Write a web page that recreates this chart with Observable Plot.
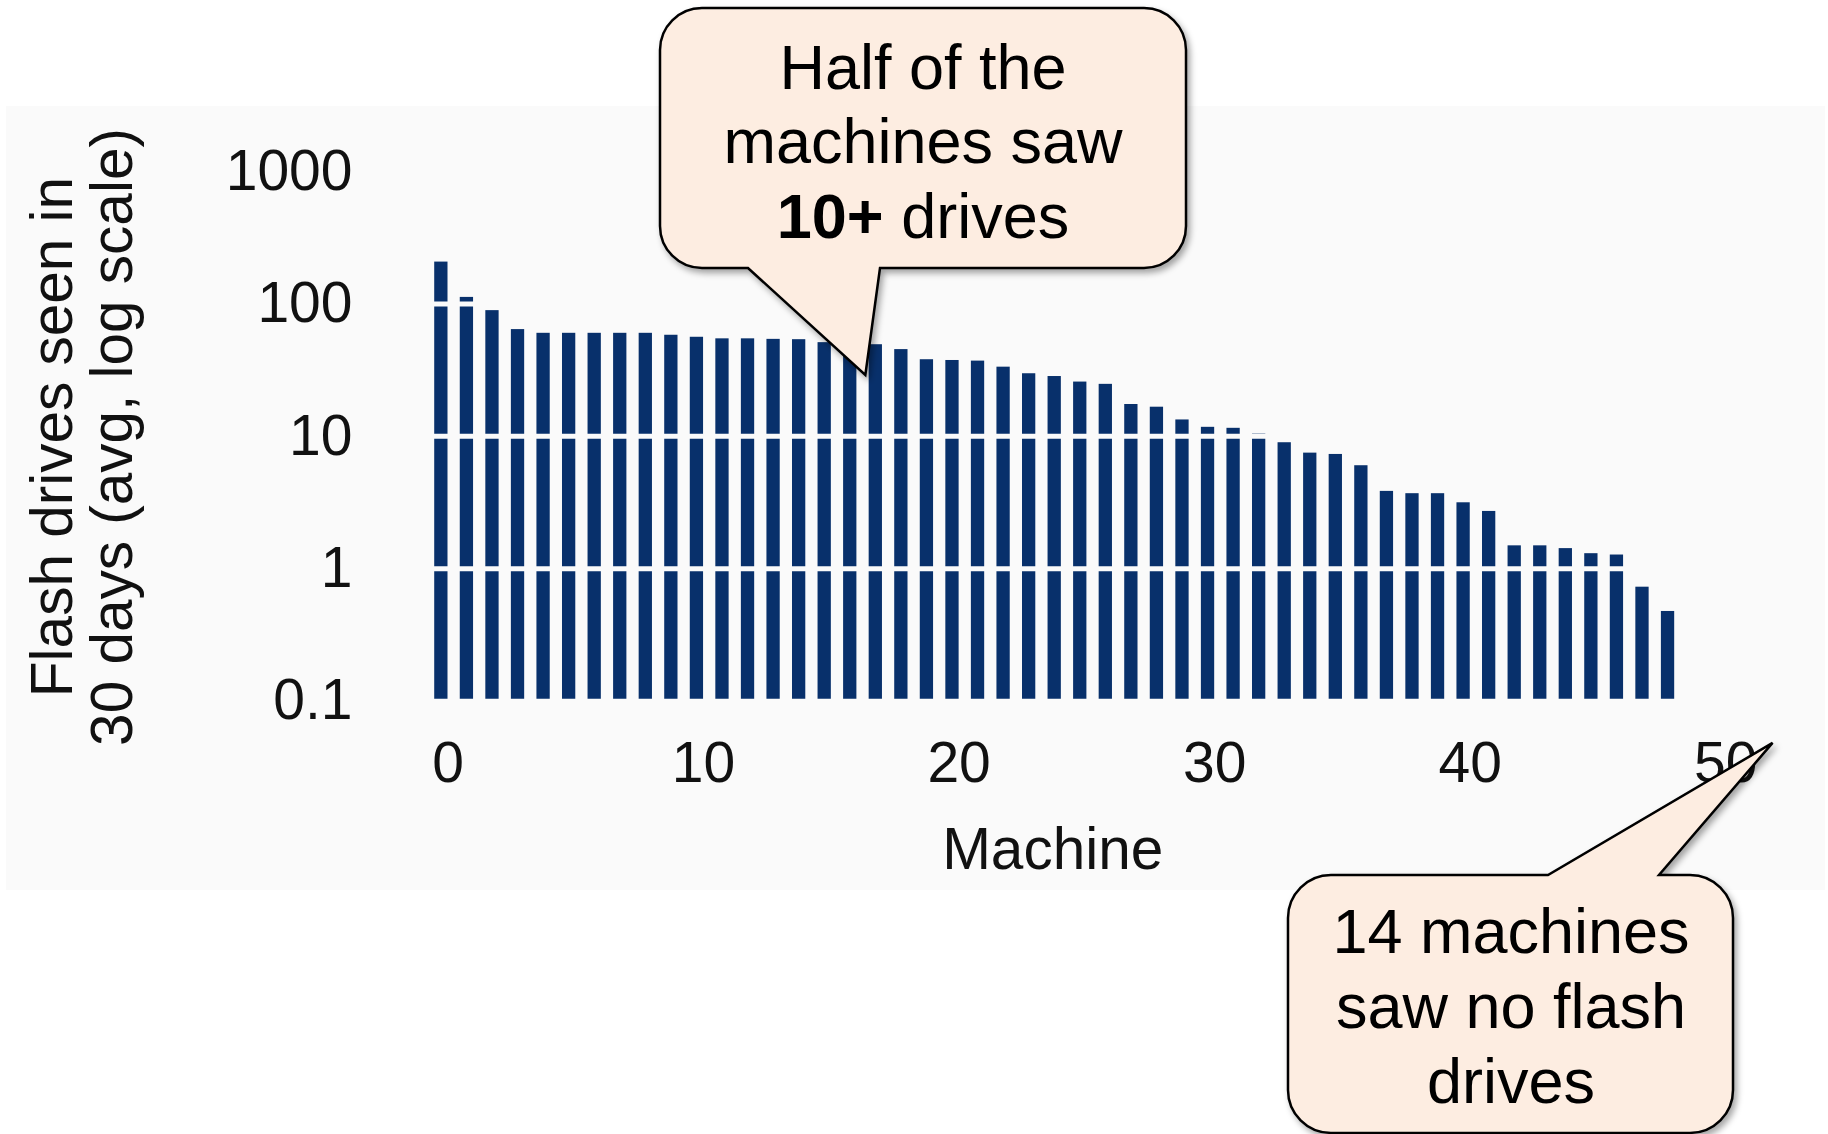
<!DOCTYPE html>
<html>
<head>
<meta charset="utf-8">
<script src="https://cdn.jsdelivr.net/npm/d3@7"></script>
<script src="https://cdn.jsdelivr.net/npm/@observablehq/plot@0.6"></script>
<style>
  html, body { margin: 0; padding: 0; background: #ffffff; }
  #chart { position: relative; width: 1828px; height: 1134px; overflow: hidden; }
  #chart svg { display: block; overflow: visible; }
</style>
</head>
<body>
<div id="chart"></div>
<script>
// ---- data ----
const drivesSeen = [
  207, 112, 89, 64, 60, 60, 60, 60, 60, 58,
  56, 54.5, 54.5, 54, 53.7, 51, 50, 49.2, 45.2, 37.9,
  37.4, 37.0, 33.3, 29.7, 28.3, 25.7, 24.7, 17.4, 16.6, 13.3,
  11.7, 11.5, 10.4, 8.95, 7.47, 7.30, 6.0, 3.84, 3.69, 3.69,
  3.15, 2.71, 1.49, 1.49, 1.42, 1.30, 1.27, 0.726, 0.476
];
const xTicks = [0, 10, 20, 30, 40, 50];
const yTicks = [0.1, 1, 10, 100, 1000];
const yTickLabels = ["0.1", "1", "10", "100", "1000"];
const gridValues = [0.1, 1, 10, 100];
const xLabel = "Machine";
const yLabelLines = ["Flash drives seen in", "30 days (avg, log scale)"];
const callout1Lines = [["", "Half of the"], ["", "machines saw"], ["10+", " drives"]];
const callout2Lines = ["14 machines", "saw no flash", "drives"];
// callout pointer targets in data space (machine, drives)
const callout1Target = [16.35, 28.8];
const callout2Target = [51.85, 0.048];

const table = drivesSeen.map((v, i) => ({machine: i, drives: v}));

const FONT = "'Liberation Sans', Arial, Helvetica, sans-serif";
const W = 1828, H = 1134;
const barColor = "#08306b";
const panelColor = "#fafafa";

const plot = Plot.plot({
  width: W,
  height: H,
  marginLeft: 447.5,
  marginRight: 102.7,
  marginTop: 171,
  marginBottom: H - 700.7,
  x: {domain: [0, 50]},
  y: {type: "log", domain: [0.1, 1000]},
  style: {background: "transparent", fontFamily: FONT, color: "#111", overflow: "visible"},
  marks: [
    Plot.rect(table, {
      x1: d => d.machine - 0.52,
      x2: d => d.machine,
      y1: 0.1,
      y2: "drives",
      fill: barColor
    }),
    Plot.ruleY(gridValues, {x1: -1, x2: 49, stroke: panelColor, strokeWidth: 5}),
    Plot.axisX(xTicks, {
      tickSize: 0, tickPadding: 40, fontSize: 57, label: null,
      tickFormat: d => String(d), fill: "#111"
    }),
    Plot.axisY(yTicks, {
      tickSize: 0, tickPadding: 95.5, fontSize: 57, label: null,
      tickFormat: d => yTickLabels[yTicks.indexOf(d)], fill: "#111"
    })
  ]
});

document.getElementById("chart").appendChild(plot);

const svg = d3.select(plot);
const xs = plot.scale("x"), ys = plot.scale("y");

// panel background behind everything
svg.insert("rect", ":first-child")
  .attr("x", 6).attr("y", 106).attr("width", 1819).attr("height", 784)
  .attr("fill", panelColor);

// axis titles
svg.append("text")
  .attr("x", 1052.7).attr("y", 868.5)
  .attr("text-anchor", "middle")
  .attr("font-family", FONT).attr("font-size", 58.5).attr("fill", "#111")
  .text(xLabel);

const yLabelX = [72, 132];
yLabelLines.forEach((t, i) => {
  svg.append("text")
    .attr("transform", `translate(${yLabelX[i]},437) rotate(-90)`)
    .attr("text-anchor", "middle")
    .attr("font-family", FONT).attr("font-size", 58.5).attr("fill", "#111")
    .text(t);
});

// drop shadow filter
const defs = svg.append("defs");
defs.append("filter").attr("id", "shadow")
  .attr("x", "-10%").attr("y", "-10%").attr("width", "130%").attr("height", "130%")
  .append("feDropShadow")
  .attr("dx", 3).attr("dy", 4).attr("stdDeviation", 3)
  .attr("flood-color", "#000").attr("flood-opacity", 0.35);

function calloutPath(x0, y0, x1, y1, r, side, a, b, tip) {
  const [tx, ty] = tip;
  if (side === "bottom") {
    return `M${x0 + r},${y0} H${x1 - r} A${r},${r} 0 0 1 ${x1},${y0 + r} V${y1 - r} ` +
      `A${r},${r} 0 0 1 ${x1 - r},${y1} H${b} L${tx},${ty} L${a},${y1} H${x0 + r} ` +
      `A${r},${r} 0 0 1 ${x0},${y1 - r} V${y0 + r} A${r},${r} 0 0 1 ${x0 + r},${y0} Z`;
  } else {
    return `M${x0 + r},${y0} H${a} L${tx},${ty} L${b},${y0} H${x1 - r} ` +
      `A${r},${r} 0 0 1 ${x1},${y0 + r} V${y1 - r} A${r},${r} 0 0 1 ${x1 - r},${y1} ` +
      `H${x0 + r} A${r},${r} 0 0 1 ${x0},${y1 - r} V${y0 + r} A${r},${r} 0 0 1 ${x0 + r},${y0} Z`;
  }
}

const fillCallout = "#fdede1";

// callout 1 (top)
const tip1 = [xs.apply(callout1Target[0]), ys.apply(callout1Target[1])];
svg.append("path")
  .attr("d", calloutPath(660, 8, 1186, 268, 42, "bottom", 748, 880, tip1))
  .attr("fill", fillCallout).attr("stroke", "#000").attr("stroke-width", 2.5)
  .attr("stroke-linejoin", "miter").attr("filter", "url(#shadow)");
const c1base = [88.5, 163, 238];
callout1Lines.forEach(([boldPart, rest], i) => {
  const t = svg.append("text")
    .attr("x", 923).attr("y", c1base[i])
    .attr("text-anchor", "middle")
    .attr("font-family", FONT).attr("font-size", 63).attr("fill", "#000");
  if (boldPart) t.append("tspan").attr("font-weight", "bold").text(boldPart);
  t.append("tspan").text(rest);
});

// callout 2 (bottom right)
const tip2 = [xs.apply(callout2Target[0]), ys.apply(callout2Target[1])];
svg.append("path")
  .attr("d", calloutPath(1288, 875, 1733, 1133, 43, "top", 1548, 1659, tip2))
  .attr("fill", fillCallout).attr("stroke", "#000").attr("stroke-width", 2.5)
  .attr("stroke-linejoin", "miter").attr("filter", "url(#shadow)");
const c2base = [953, 1028, 1103];
callout2Lines.forEach((line, i) => {
  svg.append("text")
    .attr("x", 1511).attr("y", c2base[i])
    .attr("text-anchor", "middle")
    .attr("font-family", FONT).attr("font-size", 63).attr("fill", "#000")
    .text(line);
});
</script>
</body>
</html>
